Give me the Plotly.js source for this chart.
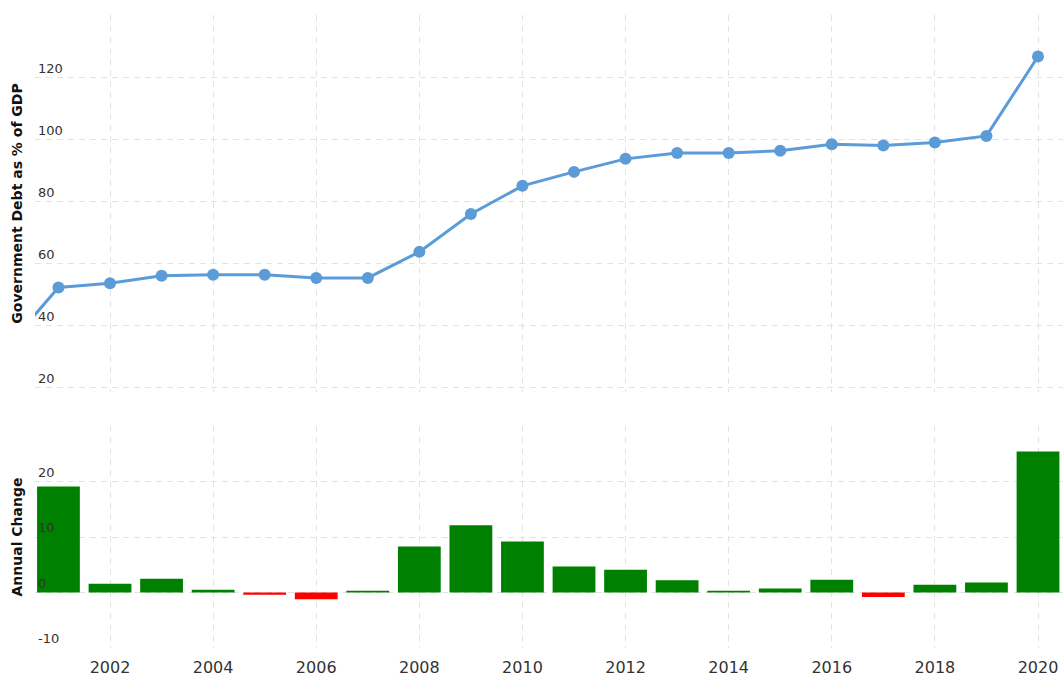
<!DOCTYPE html>
<html>
<head>
<meta charset="utf-8">
<script src="https://cdn.plot.ly/plotly-3.0.1.min.js"></script>
<style>
html,body{margin:0;padding:0;background:#fff;}
#chart{width:1063px;height:679px;}
</style>
</head>
<body>
<div id="chart"></div>
<script>
// Data
const years = [2000, 2001, 2002, 2003, 2004, 2005, 2006, 2007, 2008, 2009, 2010,
               2011, 2012, 2013, 2014, 2015, 2016, 2017, 2018, 2019, 2020];
const debtPct = [33.2, 52.4, 53.8, 56.2, 56.5, 56.5, 55.5, 55.5, 63.9, 76.1, 85.2,
                 89.7, 93.9, 95.8, 95.8, 96.5, 98.6, 98.2, 99.2, 101.3, 126.9];
const changeYears = [2001, 2002, 2003, 2004, 2005, 2006, 2007, 2008, 2009, 2010,
                     2011, 2012, 2013, 2014, 2015, 2016, 2017, 2018, 2019, 2020];
const annualChange = [19.1, 1.6, 2.5, 0.5, -0.4, -1.2, 0.3, 8.3, 12.1, 9.2,
                      4.7, 4.1, 2.2, 0.3, 0.7, 2.3, -0.8, 1.4, 1.8, 25.4];
const xTicks = [2002, 2004, 2006, 2008, 2010, 2012, 2014, 2016, 2018, 2020];
const topTicks = [20, 40, 60, 80, 100, 120, 140];
const topTickText = ['20', '40', '60', '80', '100', '120', ''];
const bottomTicks = [-10, 0, 10, 20, 30];
const bottomTickText = ['-10', '0', '10', '20', ''];

const barColors = annualChange.map(v => v < 0 ? '#ff0000' : '#008000');

const FONT = 'DejaVu Sans, Verdana, sans-serif';
const gridColor = '#e3e3e3';
const xRange = [2000.545, 2020.485];

const traces = [
  {
    x: years, y: debtPct, type: 'scatter', mode: 'lines+markers',
    xaxis: 'x', yaxis: 'y',
    line: {color: '#5b9bd8', width: 3},
    marker: {color: '#5b9bd8', size: 12},
    hoverinfo: 'x+y', cliponaxis: true
  },
  {
    x: changeYears, y: annualChange, type: 'bar',
    xaxis: 'x2', yaxis: 'y2',
    marker: {color: barColors},
    hoverinfo: 'x+y'
  }
];

const layout = {
  width: 1063, height: 679,
  margin: {l: 35, r: 0, t: 15, b: 31},
  paper_bgcolor: '#ffffff', plot_bgcolor: '#ffffff',
  showlegend: false,
  bargap: 0.17,
  font: {family: FONT, color: '#333333'},
  xaxis: {
    domain: [0, 1], anchor: 'y', range: xRange,
    tickvals: xTicks, showticklabels: false,
    showgrid: true, gridcolor: gridColor, griddash: '6px,5px', gridwidth: 1,
    zeroline: false, showline: false, ticks: ''
  },
  yaxis: {
    domain: [0.4044, 1], anchor: 'x', range: [18.7, 140.3],
    tickvals: topTicks, ticktext: topTickText,
    ticklabelposition: 'inside top',
    tickfont: {family: FONT, size: 13, color: '#333333'},
    showgrid: true, gridcolor: gridColor, griddash: '6px,5px', gridwidth: 1,
    zeroline: false, showline: false, ticks: '',
    title: {text: 'Government Debt as % of GDP', standoff: 12,
            font: {family: FONT, size: 14, color: '#111111', weight: 'bold'}}
  },
  xaxis2: {
    domain: [0, 1], anchor: 'y2', range: xRange, matches: 'x',
    tickvals: xTicks, ticklabelstandoff: 8,
    tickfont: {family: FONT, size: 16, color: '#333333'},
    showgrid: true, gridcolor: gridColor, griddash: '6px,5px', gridwidth: 1,
    zeroline: false, showline: false, ticks: ''
  },
  yaxis2: {
    domain: [0, 0.3507], anchor: 'x2', range: [-10, 30],
    tickvals: bottomTicks, ticktext: bottomTickText,
    ticklabelposition: 'inside top',
    tickfont: {family: FONT, size: 13, color: '#333333'},
    showgrid: true, gridcolor: gridColor, griddash: '6px,5px', gridwidth: 1,
    zeroline: false, showline: false, ticks: '',
    title: {text: 'Annual Change', standoff: 12,
            font: {family: FONT, size: 14, color: '#111111', weight: 'bold'}}
  }
};

Plotly.newPlot('chart', traces, layout, {displayModeBar: false, staticPlot: true});
</script>
</body>
</html>
